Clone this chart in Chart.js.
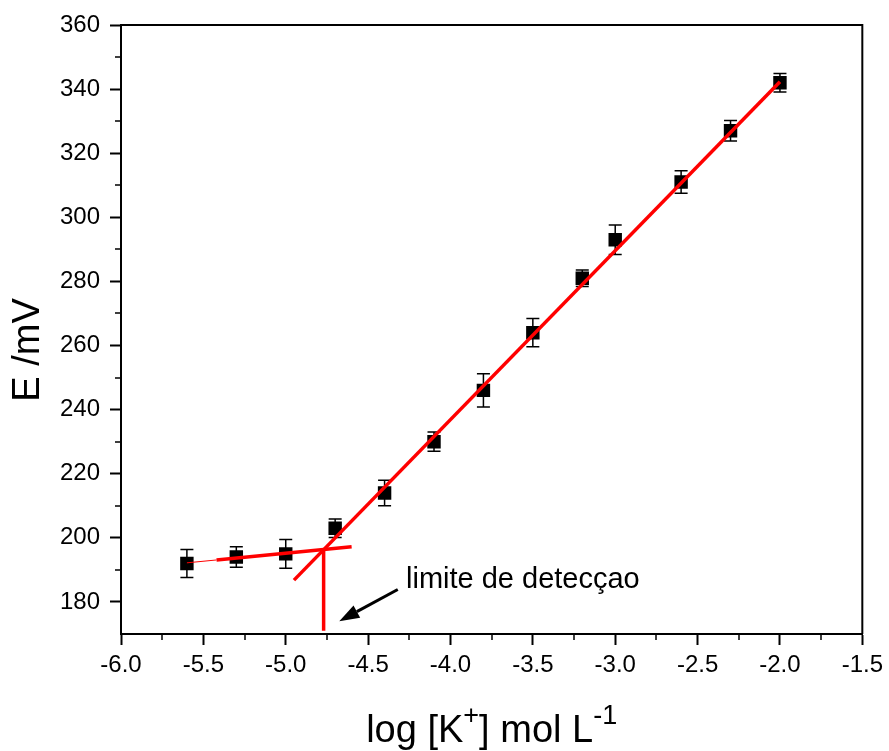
<!DOCTYPE html>
<html>
<head>
<meta charset="utf-8">
<script src="https://cdn.jsdelivr.net/npm/chart.js@4.4.1/dist/chart.umd.min.js"></script>
<style>
  html, body { margin: 0; padding: 0; background: #fff; }
  canvas { display: block; }
</style>
</head>
<body>
<canvas id="myChart" width="889" height="751"></canvas>
<script>
// calibration points: log[K+] vs potential, with standard deviation
const logK = [-5.6, -5.3, -5.0, -4.7, -4.4, -4.1, -3.8, -3.5, -3.2, -3.0, -2.6, -2.3, -2.0];
const emf = [192, 194, 195, 203, 214, 230, 246, 264, 281, 293, 311, 327, 342];
const emfErr = [4.4, 3.2, 4.5, 2.9, 4.0, 3.0, 5.2, 4.4, 2.6, 4.6, 3.5, 3.2, 2.9];

// linear (Nernstian) region fit
const fitX = [-4.95, -2.0];
const fitY = [186.8, 342.3];

// low-concentration plateau
const lowThinX = [-5.6, -5.42];
const lowThinY = [192.2, 193.1];
const lowX = [-5.42, -4.6];
const lowY = [193.1, 197.2];

// detection limit marker
const limitX = [-4.77, -4.77];
const limitY = [196.5, 171];
const arrowFrom = [-4.32, 183.9];
const arrowTo = [-4.675, 174.0];
const limitLabel = "limite de detecçao";

const xTicks = { min: -6.0, max: -1.5, step: 0.5 };
const yTicks = { min: 170, max: 360, step: 20 };
const yTitle = "E /mV";

const FONT = "'Liberation Sans', Arial, sans-serif";

function pairs(xs, ys) {
    return xs.map(function (x, i) { return { x: x, y: ys[i] }; });
}

function redLine(xs, ys, width) {
    return {
        data: pairs(xs, ys),
        showLine: true,
        borderColor: "#ff0000",
        borderWidth: width,
        pointRadius: 0,
        fill: false,
        order: 1,
    };
}

// error bars under the squares
const errorBars = {
    id: "errorBars",
    beforeDatasetsDraw(chart) {
        const ctx = chart.ctx;
        const meta = chart.getDatasetMeta(4);
        const y = chart.scales.y;
        ctx.save();
        ctx.strokeStyle = "#000";
        ctx.lineWidth = 1.5;
        meta.data.forEach(function (pt, i) {
            const top = y.getPixelForValue(emf[i] + emfErr[i]);
            const bot = y.getPixelForValue(emf[i] - emfErr[i]);
            ctx.beginPath();
            ctx.moveTo(pt.x, top);
            ctx.lineTo(pt.x, bot);
            ctx.moveTo(pt.x - 6.5, top);
            ctx.lineTo(pt.x + 6.5, top);
            ctx.moveTo(pt.x - 6.5, bot);
            ctx.lineTo(pt.x + 6.5, bot);
            ctx.stroke();
        });
        ctx.restore();
    },
};

// frame, minor ticks, arrow, annotation and axis titles
const decorations = {
    id: "decorations",
    afterDraw(chart) {
        const ctx = chart.ctx;
        const a = chart.chartArea;
        const x = chart.scales.x;
        const y = chart.scales.y;
        ctx.save();

        // top and right frame
        ctx.strokeStyle = "#000";
        ctx.lineWidth = 2;
        ctx.beginPath();
        ctx.moveTo(a.left, a.top);
        ctx.lineTo(a.right, a.top);
        ctx.lineTo(a.right, a.bottom);
        ctx.stroke();

        // minor ticks
        ctx.lineWidth = 1.5;
        ctx.beginPath();
        for (let v = xTicks.min + xTicks.step / 2; v < xTicks.max; v += xTicks.step) {
            const px = Math.round(x.getPixelForValue(v));
            ctx.moveTo(px, a.bottom);
            ctx.lineTo(px, a.bottom + 6);
        }
        for (let v = yTicks.min + 20; v < yTicks.max; v += yTicks.step) {
            const py = Math.round(y.getPixelForValue(v));
            ctx.moveTo(a.left, py);
            ctx.lineTo(a.left - 6, py);
        }
        ctx.stroke();

        // arrow pointing at the detection limit
        const x0 = x.getPixelForValue(arrowFrom[0]);
        const y0 = y.getPixelForValue(arrowFrom[1]);
        const x1 = x.getPixelForValue(arrowTo[0]);
        const y1 = y.getPixelForValue(arrowTo[1]);
        const ang = Math.atan2(y1 - y0, x1 - x0);
        const headLen = 20, headW = 7;
        const bx = x1 - headLen * Math.cos(ang);
        const by = y1 - headLen * Math.sin(ang);
        ctx.strokeStyle = "#000";
        ctx.fillStyle = "#000";
        ctx.lineWidth = 3;
        ctx.beginPath();
        ctx.moveTo(x0, y0);
        ctx.lineTo(bx, by);
        ctx.stroke();
        ctx.beginPath();
        ctx.moveTo(x1, y1);
        ctx.lineTo(bx + headW * Math.sin(ang), by - headW * Math.cos(ang));
        ctx.lineTo(bx - headW * Math.sin(ang), by + headW * Math.cos(ang));
        ctx.closePath();
        ctx.fill();

        ctx.font = "29px " + FONT;
        ctx.textAlign = "left";
        ctx.textBaseline = "alphabetic";
        ctx.fillText(limitLabel, x.getPixelForValue(-4.27), y.getPixelForValue(184.3));

        // y axis title
        ctx.save();
        ctx.translate(39, 350);
        ctx.rotate(-Math.PI / 2);
        ctx.font = "38px " + FONT;
        ctx.textAlign = "center";
        ctx.fillText(yTitle, 0, 0);
        ctx.restore();

        // x axis title with superscripts
        const parts = [
            { t: "log [K", sup: false },
            { t: "+", sup: true },
            { t: "] mol L", sup: false },
            { t: "-1", sup: true },
        ];
        const big = "38px " + FONT, small = "27px " + FONT;
        let total = 0;
        parts.forEach(function (p) {
            ctx.font = p.sup ? small : big;
            p.w = ctx.measureText(p.t).width;
            total += p.w;
        });
        let cx = (a.left + a.right) / 2 - total / 2;
        const base = 742;
        parts.forEach(function (p) {
            ctx.font = p.sup ? small : big;
            ctx.fillText(p.t, cx, p.sup ? base - 18 : base);
            cx += p.w;
        });

        ctx.restore();
    },
};

const ctx = document.getElementById("myChart").getContext("2d");
new Chart(ctx, {
    type: "scatter",
    data: {
        datasets: [
            redLine(fitX, fitY, 3.5),
            redLine(lowThinX, lowThinY, 1),
            redLine(lowX, lowY, 3.5),
            redLine(limitX, limitY, 3.5),
            {
                data: pairs(logK, emf),
                pointStyle: "rect",
                pointRadius: 9.5,
                pointHoverRadius: 9.5,
                backgroundColor: "#000",
                borderColor: "#000",
                borderWidth: 0,
                order: 2,
            },
        ],
    },
    options: {
        responsive: false,
        devicePixelRatio: 1,
        animation: false,
        layout: { padding: { top: 25, right: 23, left: 0, bottom: 0 } },
        plugins: {
            legend: { display: false },
            tooltip: { enabled: false },
        },
        scales: {
            x: {
                type: "linear",
                min: xTicks.min,
                max: xTicks.max,
                afterFit: function (scale) { scale.height = 117; },
                ticks: {
                    stepSize: xTicks.step,
                    padding: 6,
                    color: "#000",
                    font: { family: FONT, size: 24 },
                    callback: function (v) { return v.toFixed(1); },
                },
                grid: {
                    drawOnChartArea: false,
                    tickLength: 11,
                    tickWidth: 2,
                    tickColor: "#000",
                },
                border: { color: "#000", width: 2 },
            },
            y: {
                min: yTicks.min,
                max: yTicks.max,
                afterFit: function (scale) { scale.width = 121; },
                ticks: {
                    stepSize: yTicks.step,
                    includeBounds: false,
                    padding: 10,
                    color: "#000",
                    font: { family: FONT, size: 24 },
                },
                grid: {
                    drawOnChartArea: false,
                    tickLength: 11,
                    tickWidth: 2,
                    tickColor: "#000",
                },
                border: { color: "#000", width: 2 },
            },
        },
    },
    plugins: [errorBars, decorations],
});
</script>
</body>
</html>
